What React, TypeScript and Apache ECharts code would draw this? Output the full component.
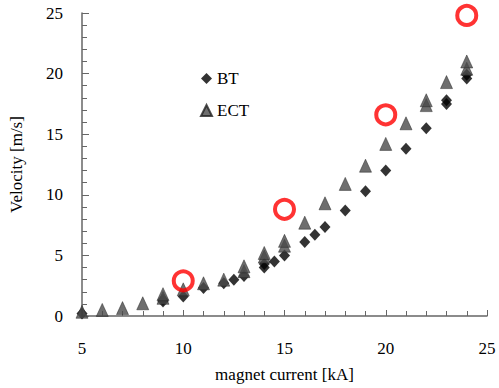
import React, { useEffect, useRef } from "react";
import * as echarts from "echarts";

const btCurrent = [5, 9, 9, 10, 11, 12, 12.5, 13, 14, 14, 14.5, 15, 16, 16.5, 17, 18, 19, 20, 21, 22, 23, 23, 24, 24];
const btVelocity = [0.2, 1.2, 1.35, 1.6, 2.3, 2.7, 3.0, 3.3, 4.0, 4.3, 4.5, 5.0, 6.1, 6.7, 7.35, 8.7, 10.3, 12.0, 13.8, 15.5, 17.5, 17.8, 19.6, 19.9];
const ectCurrent = [5, 6, 7, 8, 9, 9, 10, 11, 12, 13, 13, 14, 14, 15, 15, 16, 17, 18, 19, 20, 21, 22, 22, 23, 24, 24];
const ectVelocity = [0.35, 0.5, 0.65, 1.05, 1.5, 1.8, 2.2, 2.7, 3.0, 3.7, 4.1, 4.9, 5.2, 5.8, 6.2, 7.7, 9.3, 10.9, 12.4, 14.2, 15.9, 17.4, 17.8, 19.3, 20.4, 21.0];
const markCurrent = [10, 15, 20, 24];
const markVelocity = [2.9, 8.8, 16.6, 24.8];

const xTickLabels = ["5", "10", "15", "20", "25"];
const yTickLabels = ["0", "5", "10", "15", "20", "25"];

const FONT = "Liberation Serif";

export default function App() {
  const ref = useRef<HTMLDivElement>(null);
  useEffect(() => {
    if (!ref.current) return;
    const chart = echarts.init(ref.current, undefined, { renderer: "svg" });
    const pair = (xs: number[], ys: number[]) => xs.map((x, i) => [x, ys[i]]);
    const axisColor = "#666";
    const labelStyle = { fontFamily: FONT, fontSize: 17, color: "#000" };
    chart.setOption({
      animation: false,
      textStyle: { fontFamily: FONT },
      grid: { left: 75, right: 12, top: 13, bottom: 70, containLabel: false },
      legend: {
        data: [
          { name: "BT", icon: "diamond" },
          { name: "ECT", icon: "triangle" },
        ],
        orient: "vertical",
        left: 195,
        top: 65,
        itemWidth: 11,
        itemHeight: 11,
        itemGap: 15,
        textStyle: labelStyle,
      },
      xAxis: {
        type: "value",
        min: 5,
        max: 25,
        interval: 5,
        name: "magnet current [kA]",
        nameLocation: "middle",
        nameGap: 50,
        nameTextStyle: labelStyle,
        axisLine: { lineStyle: { color: axisColor, width: 1.5 } },
        axisTick: { inside: true, length: 6, lineStyle: { color: axisColor } },
        minorTick: { show: true, splitNumber: 5, length: 5, lineStyle: { color: axisColor } },
        splitLine: { show: false },
        axisLabel: {
          margin: 24,
          ...labelStyle,
          formatter: (v: number) => (xTickLabels.includes(String(v)) ? String(v) : ""),
        },
      },
      yAxis: {
        type: "value",
        min: 0,
        max: 25,
        interval: 5,
        name: "Velocity [m/s]",
        nameLocation: "middle",
        nameGap: 57,
        nameTextStyle: labelStyle,
        axisLine: { show: true, lineStyle: { color: axisColor, width: 1.5 } },
        axisTick: { show: true, inside: true, length: 7, lineStyle: { color: axisColor } },
        minorTick: { show: true, splitNumber: 5, length: 5, lineStyle: { color: axisColor } },
        splitLine: { show: false },
        axisLabel: {
          margin: 19,
          ...labelStyle,
          formatter: (v: number) => (yTickLabels.includes(String(v)) ? String(v) : ""),
        },
      },
      series: [
        {
          name: "BT",
          type: "scatter",
          symbol: "diamond",
          symbolSize: [11, 12],
          itemStyle: { color: "#000" },
          data: pair(btCurrent, btVelocity),
          z: 2,
        },
        {
          name: "ECT",
          type: "scatter",
          symbol: "triangle",
          symbolSize: [12, 13],
          itemStyle: {
            color: "#4a4a4a",
            borderColor: "#222",
            borderWidth: 0.6,
          },
          data: pair(ectCurrent, ectVelocity),
          z: 3,
        },
        {
          name: "mark",
          type: "scatter",
          symbol: "circle",
          symbolSize: 19,
          itemStyle: { color: "rgba(0,0,0,0)", borderColor: "#f00", borderWidth: 4 },
          data: pair(markCurrent, markVelocity),
          z: 4,
        },
      ],
    });
    return () => chart.dispose();
  }, []);
  return <div ref={ref} style={{ width: 499, height: 388, position: "absolute", left: 0, top: 0 }} />;
}
